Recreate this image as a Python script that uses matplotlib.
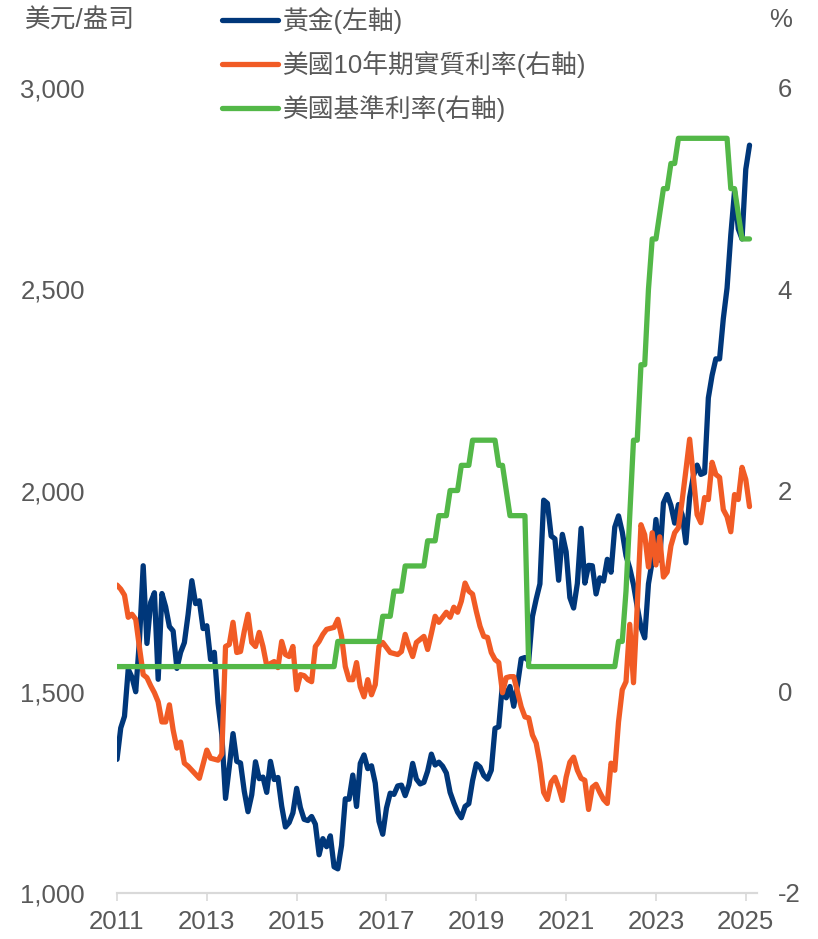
import numpy as np
import pandas as pd
import matplotlib
matplotlib.use("Agg")
import matplotlib.pyplot as plt
from matplotlib.ticker import StrMethodFormatter

plt.rcParams['font.family'] = ['Liberation Sans', 'Noto Sans CJK TC', 'DejaVu Sans']
plt.rcParams['axes.unicode_minus'] = False

# Monthly observations, Dec 2010 - Feb 2025
first_month = "2010-12"
last_month = "2025-02"

# Gold price, USD per ounce (month end)
gold_usd = [
    1405,
    1332, 1410, 1439, 1556, 1536, 1500, 1628, 1813, 1620, 1722, 1746, 1531,
    1744, 1711, 1662, 1651, 1558, 1598, 1622, 1692, 1776, 1719, 1726, 1657,
    1664, 1580, 1598, 1472, 1394, 1235, 1313, 1396, 1327, 1323, 1253, 1202,
    1244, 1326, 1284, 1288, 1250, 1327, 1282, 1287, 1216, 1164, 1175, 1199,
    1260, 1212, 1183, 1180, 1190, 1171, 1095, 1135, 1115, 1142, 1065, 1060,
    1118, 1234, 1233, 1293, 1215, 1322, 1343, 1309, 1316, 1273, 1178, 1146,
    1211, 1248, 1245, 1266, 1268, 1242, 1269, 1322, 1283, 1271, 1275, 1303,
    1345, 1318, 1325, 1315, 1298, 1250, 1224, 1201, 1187, 1215, 1222, 1279,
    1321, 1313, 1292, 1283, 1305, 1409, 1413, 1520, 1485, 1513, 1464, 1517,
    1582, 1585, 1577, 1687, 1730, 1768, 1976, 1968, 1887, 1880, 1777, 1891,
    1848, 1734, 1708, 1769, 1906, 1770, 1814, 1813, 1743, 1783, 1775, 1829,
    1797, 1909, 1937, 1897, 1838, 1807, 1766, 1711, 1660, 1634, 1768, 1824,
    1928, 1827, 1969, 1990, 1963, 1919, 1965, 1940, 1870, 1983, 2036, 2063,
    2040, 2044, 2230, 2286, 2327, 2327, 2427, 2503, 2635, 2744, 2650, 2625,
    2798, 2858,
]

# US 10-year real yield, % (month end)
real_yield = [
    1.06,
    1.06, 1.02, 0.96, 0.74, 0.77, 0.72, 0.44, 0.17, 0.14, 0.06, -0.01, -0.10,
    -0.30, -0.30, -0.13, -0.38, -0.56, -0.50, -0.71, -0.74, -0.78, -0.82, -0.86, -0.72,
    -0.58, -0.66, -0.67, -0.68, -0.62, 0.45, 0.47, 0.69, 0.39, 0.40, 0.60, 0.77,
    0.49, 0.45, 0.59, 0.45, 0.26, 0.28, 0.30, 0.24, 0.50, 0.37, 0.35, 0.45,
    0.02, 0.17, 0.16, 0.12, 0.10, 0.45, 0.50, 0.57, 0.62, 0.63, 0.64, 0.72,
    0.55, 0.25, 0.12, 0.12, 0.29, 0.05, -0.05, 0.12, -0.03, 0.07, 0.45, 0.49,
    0.44, 0.39, 0.38, 0.37, 0.40, 0.57, 0.45, 0.35, 0.49, 0.52, 0.55, 0.42,
    0.58, 0.75, 0.69, 0.74, 0.79, 0.74, 0.84, 0.79, 0.90, 1.08, 1.00, 0.97,
    0.80, 0.65, 0.55, 0.54, 0.39, 0.32, 0.29, -0.01, 0.14, 0.15, 0.15, 0.00,
    -0.15, -0.25, -0.26, -0.43, -0.51, -0.71, -1.00, -1.07, -0.90, -0.85, -0.95, -1.08,
    -0.85, -0.70, -0.65, -0.78, -0.86, -0.88, -1.17, -0.95, -0.92, -1.00, -1.07, -1.11,
    -0.71, -0.78, -0.30, 0.02, 0.10, 0.67, 0.09, 0.85, 1.66, 1.56, 1.24, 1.58,
    1.26, 1.54, 1.14, 1.19, 1.45, 1.58, 1.63, 1.90, 2.20, 2.51, 2.14, 1.76,
    1.68, 1.93, 1.91, 2.28, 2.16, 2.13, 1.81, 1.74, 1.59, 1.96, 1.91, 2.23,
    2.11, 1.84,
]

# Fed funds target (upper bound, %) and number of months held at each level
fed_levels = [0.25, 0.50, 0.75, 1.00, 1.25, 1.50, 1.75, 2.00, 2.25, 2.50,
              2.25, 2.00, 1.75, 0.25, 0.50, 1.00, 1.75, 2.50, 3.25, 4.00,
              4.50, 4.75, 5.00, 5.25, 5.50, 5.00, 4.75, 4.50]
fed_months = [60, 12, 3, 3, 6, 3, 3, 3, 3, 7,
              2, 1, 5, 24, 2, 1, 1, 2, 2, 1,
              2, 1, 2, 2, 14, 2, 1, 3]

year_ticks = list(range(2011, 2026, 2))

series_names = ["黃金(左軸)", "美國10年期實質利率(右軸)", "美國基準利率(右軸)"]
colors = ["#00377A", "#F15B25", "#53B848"]

months = pd.period_range(first_month, last_month, freq="M")
x = months.year + (months.month - 1) / 12.0
fed_rate = np.repeat(fed_levels, fed_months)
assert len(gold_usd) == len(x) == len(real_yield) == len(fed_rate)

W, H = 818, 939
fig = plt.figure(figsize=(W / 100, H / 100), dpi=100)
ax = fig.add_axes([117 / W, 46 / H, 640 / W, 805 / H])
ax2 = ax.twinx()

line_kw = dict(lw=3.8, solid_joinstyle="round", solid_capstyle="round")
l1, = ax.plot(x, gold_usd, color=colors[0], label=series_names[0], **line_kw)
l2, = ax2.plot(x, real_yield, color=colors[1], label=series_names[1], **line_kw)
l3, = ax2.plot(x, fed_rate, color=colors[2], label=series_names[2], **line_kw)

ax.set_xlim(2011.0, 2025.25)
ax.set_ylim(1000, 3000)
ax2.set_ylim(-2, 6)

text_color = "#595959"
fs = 18.5

ax.set_yticks([1000, 1500, 2000, 2500, 3000])
ax.yaxis.set_major_formatter(StrMethodFormatter("{x:,.0f}"))
ax2.set_yticks([-2, 0, 2, 4, 6])
ax.set_xticks(year_ticks)
ax.set_xticklabels([str(y) for y in year_ticks])

ax.tick_params(axis="y", length=0, pad=23, labelsize=fs, labelcolor=text_color)
ax2.tick_params(axis="y", length=0, pad=15, labelsize=fs, labelcolor=text_color)
ax.tick_params(axis="x", length=6, width=1.2, color="#D9D9D9", pad=6,
               labelsize=fs, labelcolor=text_color)

for a in (ax, ax2):
    for side in ("left", "right", "top"):
        a.spines[side].set_visible(False)
    a.spines["bottom"].set_color("#D9D9D9")
    a.spines["bottom"].set_linewidth(1.5)
    a.patch.set_visible(False)

fig.text(25 / W, 1 - 21 / H, "美元/盎司", ha="left", va="center",
         fontsize=fs, color=text_color)
fig.text(781 / W, 1 - 20 / H, "%", ha="center", va="center",
         fontsize=fs, color=text_color)

fig.legend(handles=[l1, l2, l3], loc="upper left",
           bbox_to_anchor=(222 / W, 1 - 7 / H), frameon=False,
           fontsize=fs, labelcolor=text_color, borderpad=0, borderaxespad=0,
           handlelength=2.18, handletextpad=0.2, labelspacing=0.66)

fig.savefig("out.png", dpi=100, facecolor="white")
